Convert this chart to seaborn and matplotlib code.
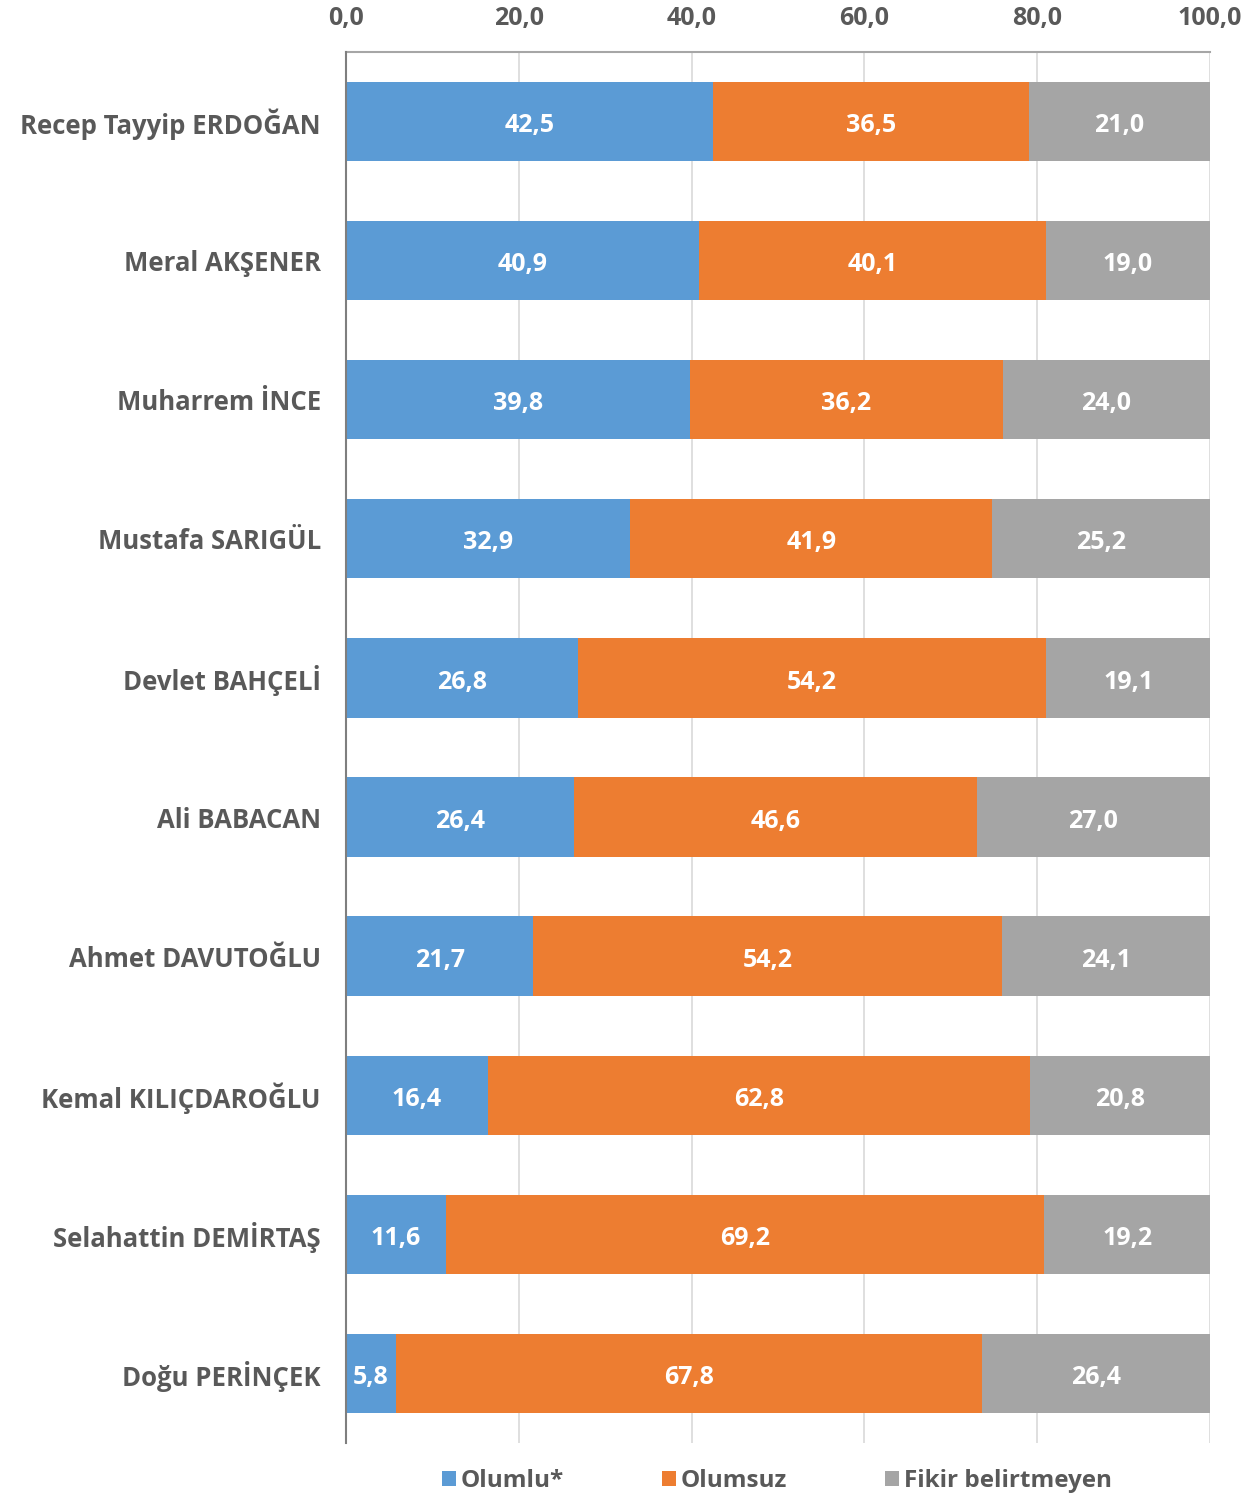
import numpy as np
import pandas as pd
import matplotlib
matplotlib.use("Agg")
import matplotlib.pyplot as plt
import seaborn as sns
from matplotlib.patches import Patch

names = ["Recep Tayyip ERDOĞAN", "Meral AKŞENER", "Muharrem İNCE", "Mustafa SARIGÜL",
         "Devlet BAHÇELİ", "Ali BABACAN", "Ahmet DAVUTOĞLU", "Kemal KILIÇDAROĞLU",
         "Selahattin DEMİRTAŞ", "Doğu PERİNÇEK"]
olumlu = [42.5, 40.9, 39.8, 32.9, 26.8, 26.4, 21.7, 16.4, 11.6, 5.8]
olumsuz = [36.5, 40.1, 36.2, 41.9, 54.2, 46.6, 54.2, 62.8, 69.2, 67.8]
fikir = [21.0, 19.0, 24.0, 25.2, 19.1, 27.0, 24.1, 20.8, 19.2, 26.4]
series = ["Olumlu*", "Olumsuz", "Fikir belirtmeyen"]
colors = ["#5B9BD5", "#ED7D31", "#A5A5A5"]

df = pd.DataFrame({"name": names, "Olumlu*": olumlu, "Olumsuz": olumsuz,
                   "Fikir belirtmeyen": fikir})
cum = df[series].cumsum(axis=1)

sns.set_theme(style="white")
plt.rcParams["font.family"] = ["Open Sans", "DejaVu Sans"]
plt.rcParams["font.weight"] = "bold"

fig = plt.figure(figsize=(12.53, 14.97), dpi=100)
ax = fig.add_axes([0.2761, 0.0361, 0.9657 - 0.2761, 0.9653 - 0.0361])

# draw stacks back to front
for s, c in reversed(list(zip(series, colors))):
    sns.barplot(x=cum[s], y=df["name"], color=c, width=0.57, ax=ax,
                saturation=1, zorder=3, edgecolor="none")

# labels at segment centres
for i in range(len(df)):
    left = 0
    for s in series:
        v = df.loc[i, s]
        ax.text(left + v / 2, i + 0.03, f"{v:.1f}".replace(".", ","), ha="center", va="center",
                color="white", fontsize=18, fontweight="bold", zorder=5)
        left += v

ax.set_xlim(0, 100)
ax.set_ylim(len(df) - 0.5, -0.5)
ax.xaxis.tick_top()
ax.set_xticks(np.arange(0, 101, 20))
ax.set_xticklabels([f"{t:.1f}".replace(".", ",") for t in np.arange(0, 101, 20)])
ax.tick_params(axis="x", length=0, pad=15, labelsize=18, labelcolor="#595959")
ax.tick_params(axis="y", length=0, pad=18, labelsize=18.5, labelcolor="#595959")
ax.set_xlabel("")
ax.set_ylabel("")
ax.grid(axis="x", color="#D9D9D9", linewidth=1.2, zorder=0)
ax.set_axisbelow(True)
for side in ["right", "bottom"]:
    ax.spines[side].set_visible(False)
ax.spines["left"].set_color("#7F7F7F")
ax.spines["left"].set_linewidth(1.5)
ax.spines["top"].set_color("#A6A6A6")
ax.spines["top"].set_linewidth(1.5)
ax.spines["left"].set_zorder(6)

handles = [Patch(facecolor=c, edgecolor="none") for c in colors]
fig.legend(handles, series, loc="lower center", bbox_to_anchor=(0.62, -0.012), ncol=3,
           frameon=False, fontsize=17.5, labelcolor="#595959", handlelength=0.6,
           handleheight=0.6, handletextpad=0.2, columnspacing=4.0)

fig.savefig("out.png", dpi=100)
